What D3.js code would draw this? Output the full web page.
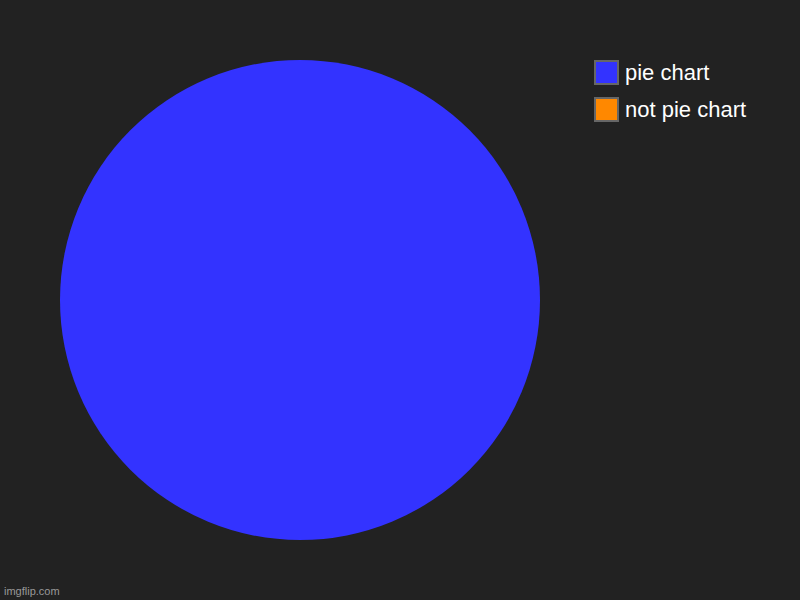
<!DOCTYPE html>
<html>
<head>
<meta charset="utf-8">
<script src="https://cdn.jsdelivr.net/npm/d3@7"></script>
<style>
  html, body { margin: 0; padding: 0; background: #222222; }
</style>
</head>
<body>
<div id="chart"></div>
<script>
const labels = ["pie chart", "not pie chart"];
const values = [100, 0];
const colors = ["#3333ff", "#ff8800"];

const width = 800, height = 600;

const svg = d3.select("#chart")
    .append("svg")
    .attr("width", width)
    .attr("height", height)
    .style("display", "block")
    .style("font-family", "'Liberation Sans', Arial, sans-serif");

svg.append("rect")
    .attr("width", width)
    .attr("height", height)
    .attr("fill", "#222222");

const data = labels.map((l, i) => ({label: l, value: values[i]}));

const color = d3.scaleOrdinal().domain(labels).range(colors);

const pie = d3.pie().sort(null).value(d => d.value);
const arc = d3.arc().innerRadius(0).outerRadius(240);

const g = svg.append("g").attr("transform", "translate(300,300)");

g.selectAll("path")
    .data(pie(data).filter(d => d.value > 0))
    .enter()
    .append("path")
    .attr("d", arc)
    .attr("fill", d => color(d.data.label));

// legend
const legendY = d3.scalePoint().domain(labels).range([72, 109]);

const legend = svg.selectAll(".legend")
    .data(data)
    .enter()
    .append("g")
    .attr("class", "legend")
    .attr("transform", d => `translate(595,${legendY(d.label)})`);

legend.append("rect")
    .attr("x", 0)
    .attr("y", -11)
    .attr("width", 23)
    .attr("height", 23)
    .attr("fill", d => color(d.label))
    .attr("stroke", "#666666")
    .attr("stroke-width", 2);

legend.append("text")
    .attr("x", 30)
    .attr("y", 8)
    .attr("fill", "#ffffff")
    .attr("font-size", "22px")
    .text(d => d.label);

svg.append("text")
    .attr("x", 4)
    .attr("y", 595)
    .attr("fill", "#999999")
    .attr("font-size", "11px")
    .text("imgflip.com");
</script>
</body>
</html>
